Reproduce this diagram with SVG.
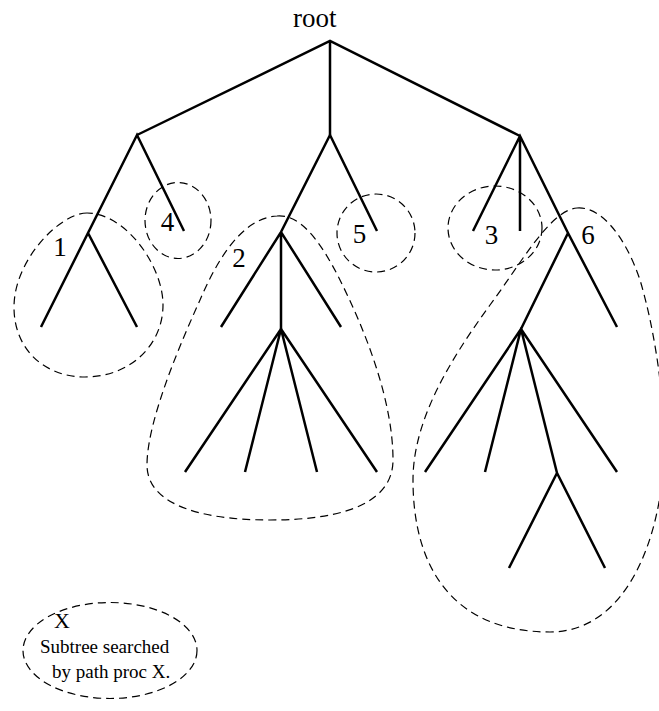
<svg xmlns="http://www.w3.org/2000/svg" width="659" height="711" viewBox="0 0 659 711">
<style>
.e{stroke:#000;stroke-width:2.5;fill:none;stroke-linecap:butt}
.d{stroke:#000;stroke-width:1.2;fill:none;stroke-dasharray:8 5}
.t{font-family:"Liberation Serif","Times New Roman",serif;fill:#000}
.lab{font-size:27px;text-anchor:middle}
</style>
<rect width="659" height="711" fill="#fff"/>
<g id="connectors">
<path class="e" d="M137,135 L330,41 L520,136 M330,41 L330,135"/>
<path class="e" d="M88,233 L137,135 L184,231 M41,327 L88,233 L137,327"/>
<path class="e" d="M281,232 L330,135 L377,231 M221,327 L281,232 L341,327 M281,232 L281,329"/>
<path class="e" d="M185,472 L281,329 L377,472 M245,472 L281,329 L317,472"/>
<path class="e" d="M473,231 L520,136 L568,233 L617,327 M520,136 L520,231 M568,233 L521,329"/>
<path class="e" d="M425,472 L521,329 L617,472 M485,472 L521,329 L557,473 M509,568 L557,473 L605,568"/>
</g>
<g id="node-root"><text class="t" x="293" y="27" font-size="27">root</text></g>
<g id="subtree-1">
<path class="d" d="M87,213 C60,213 14,260 14,307 C14,350 45,377 85,377 C130,377 163,345 163,305 C163,265 125,213 87,213 Z"/>
<text class="t lab" x="60" y="256">1</text>
</g>
<g id="subtree-4">
<ellipse class="d" cx="178" cy="220.5" rx="33" ry="38"/>
<text class="t lab" x="167.5" y="231">4</text>
</g>
<g id="subtree-2">
<path class="d" d="M277,216 C300,214 320,240 340,280 C365,330 393,400 393,460 C393,500 350,520 270,520 C190,520 147,500 147,465 C147,420 182,340 200,300 C215,265 240,218 277,216 Z"/>
<text class="t lab" x="239" y="267">2</text>
</g>
<g id="subtree-5">
<ellipse class="d" cx="376" cy="233" rx="39" ry="39"/>
<text class="t lab" x="359.5" y="243">5</text>
</g>
<g id="subtree-3">
<ellipse class="d" cx="495" cy="228" rx="47" ry="42"/>
<text class="t lab" x="491.5" y="244">3</text>
</g>
<g id="subtree-6">
<path class="d" d="M577,208 C600,206 625,235 640,280 C655,330 665,400 664,450 C663,530 630,632 550,632 C455,632 413,570 413,480 C413,420 450,360 490,305 C520,265 550,210 577,208 Z"/>
<text class="t lab" x="588" y="244">6</text>
</g>
<g id="legend">
<ellipse class="d" cx="110" cy="650.5" rx="87" ry="48"/>
<text class="t" x="62" y="628" font-size="22" text-anchor="middle">X</text>
<text class="t" x="40" y="653" font-size="19">Subtree searched</text>
<text class="t" x="52" y="678" font-size="19">by path proc X.</text>
</g>
</svg>
